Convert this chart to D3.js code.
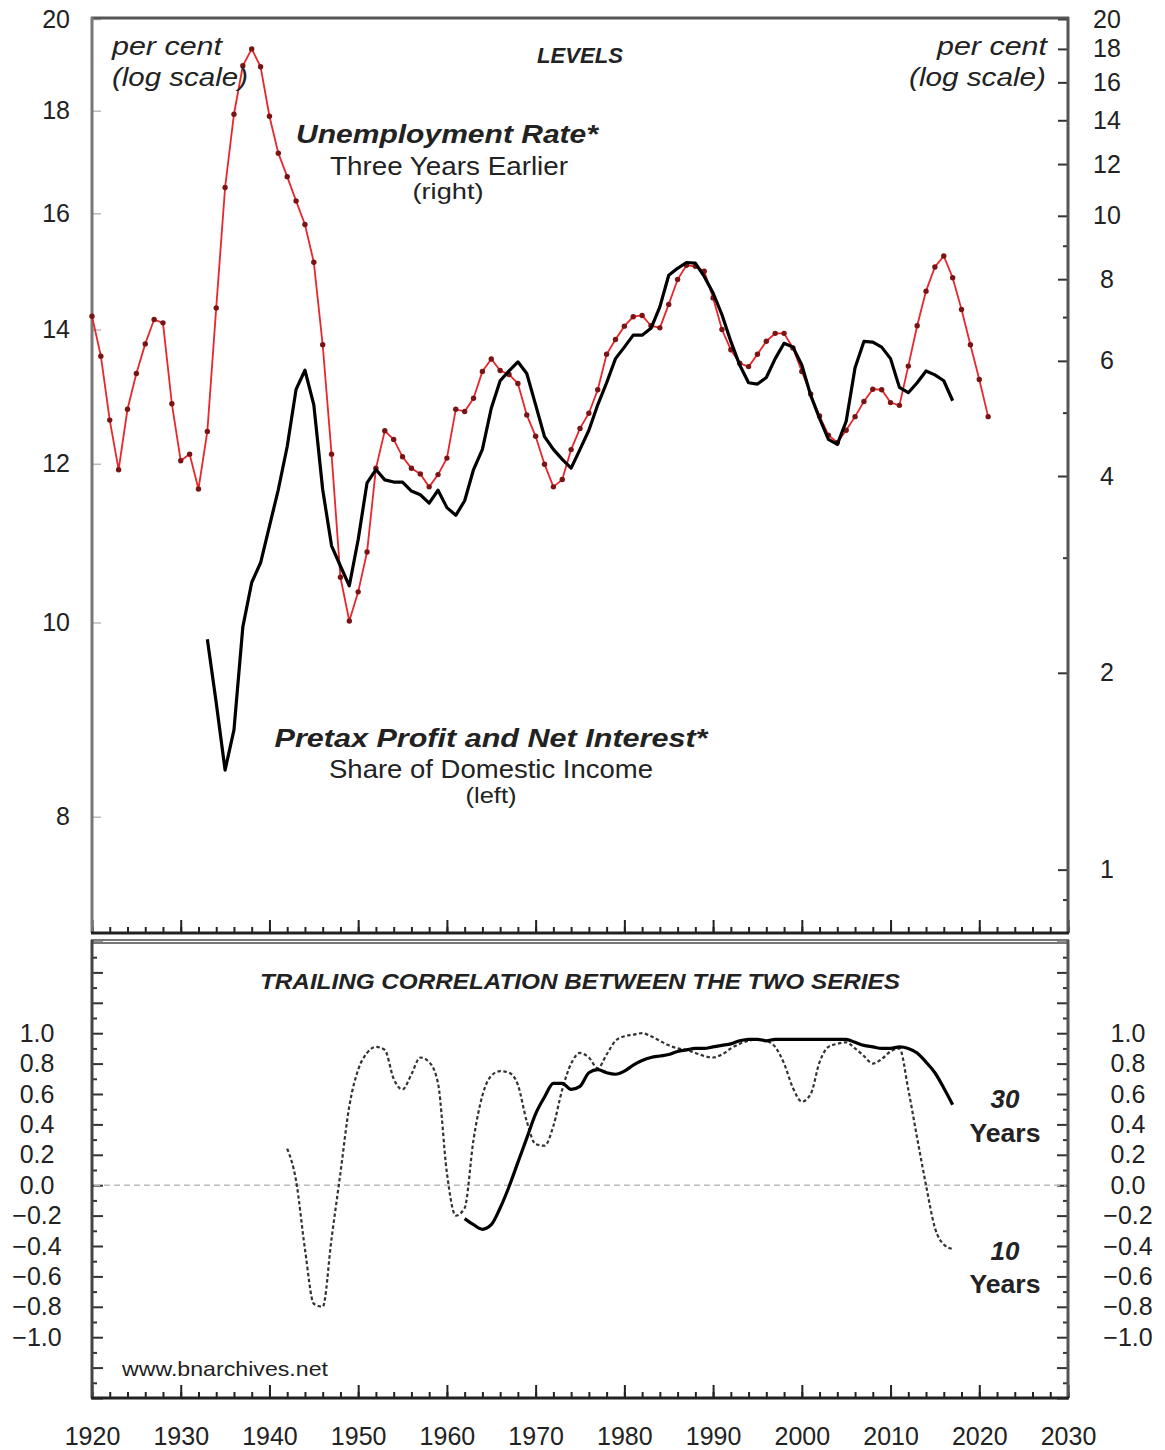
<!DOCTYPE html>
<html><head><meta charset="utf-8">
<script src="https://cdn.jsdelivr.net/npm/d3@7"></script>
<style>
body{margin:0;background:#fff}
svg{display:block}
text{font-family:"Liberation Sans",Arial,Helvetica,sans-serif;fill:#222}
</style>
</head><body>
<svg id="c" width="1165" height="1450"></svg>
<script>
// ---------------- DATA ----------------
const unempStart = 1920; // Unemployment rate three years earlier (right, log)
const unemp = [
  7.02, 6.10, 4.87, 4.09, 5.06, 5.74, 6.37, 6.94, 6.86, 5.16,
  4.22, 4.32, 3.82, 4.68, 7.23, 11.05, 14.3, 16.96, 18.0, 16.9,
  14.2, 12.47, 11.48, 10.54, 9.70, 8.49, 6.35, 4.32, 2.80, 2.40,
  2.66, 3.06, 4.11, 4.69, 4.55, 4.28, 4.11, 4.03, 3.85, 4.02,
  4.26, 5.06, 5.02, 5.26, 5.78, 6.04, 5.80, 5.72, 5.54, 4.96,
  4.60, 4.17, 3.85, 3.95, 4.39, 4.73, 4.99, 5.42, 6.14, 6.47,
  6.78, 7.01, 7.04, 6.79, 6.74, 7.32, 7.99, 8.40, 8.37, 8.23,
  7.49, 6.70, 6.24, 5.95, 5.88, 6.14, 6.43, 6.61, 6.61, 6.28,
  5.78, 5.34, 4.94, 4.62, 4.50, 4.70, 4.93, 5.20, 5.43, 5.42,
  5.18, 5.13, 5.89, 6.79, 7.67, 8.35, 8.68, 8.04, 7.19, 6.35,
  5.62, 4.93
];
const profitStart = 1933; // Pretax profit and net interest, share of domestic income (left, log)
const profit = [
  9.81, 9.12, 8.44, 8.84, 9.95, 10.47, 10.71,
  11.17, 11.65, 12.24, 13.07, 13.36, 12.84, 11.65, 10.92, 10.67, 10.43,
  11.00, 11.74, 11.92, 11.78, 11.75, 11.75, 11.63, 11.58, 11.47, 11.64,
  11.41, 11.31, 11.50, 11.92, 12.20, 12.79, 13.20, 13.35, 13.49, 13.31,
  12.84, 12.38, 12.20, 12.06, 11.94, 12.20, 12.47, 12.84, 13.17, 13.54,
  13.72, 13.91, 13.91, 14.02, 14.37, 14.90, 15.02, 15.12, 15.11, 14.88,
  14.60, 14.24, 13.81, 13.44, 13.17, 13.15, 13.25, 13.54, 13.78, 13.72,
  13.44, 12.98, 12.64, 12.34, 12.27, 12.60, 13.40, 13.81, 13.80, 13.72,
  13.54, 13.10, 13.02, 13.17, 13.35, 13.29, 13.20, 12.90
];
const corr10Start = 1942; // 10-year trailing correlation (dotted)
const corr10 = [
  0.24, 0.03, -0.42, -0.78, -0.80, -0.35, 0.08, 0.52,
  0.76, 0.87, 0.91, 0.89, 0.70, 0.63, 0.73, 0.84, 0.81, 0.67,
  0.08, -0.20, -0.15, 0.30, 0.59, 0.72, 0.75, 0.74, 0.66, 0.42,
  0.27, 0.26, 0.39, 0.63, 0.80, 0.87, 0.84, 0.77, 0.86, 0.95,
  0.98, 0.99, 1.00, 0.98, 0.95, 0.92, 0.90, 0.89, 0.87, 0.85,
  0.84, 0.86, 0.90, 0.93, 0.95, 0.96, 0.95, 0.91, 0.80, 0.64,
  0.55, 0.60, 0.81, 0.91, 0.93, 0.94, 0.90, 0.85, 0.80, 0.83,
  0.88, 0.90, 0.63, 0.31, 0.00, -0.28, -0.39, -0.42
];
const corr30Start = 1962; // 30-year trailing correlation (solid)
const corr30 = [
  -0.22, -0.26, -0.29, -0.26, -0.15, -0.01, 0.15, 0.31,
  0.47, 0.58, 0.67, 0.67, 0.63, 0.65, 0.74, 0.76, 0.74, 0.73,
  0.75, 0.79, 0.82, 0.84, 0.85, 0.86, 0.88, 0.89, 0.90, 0.90,
  0.91, 0.92, 0.93, 0.95, 0.96, 0.96, 0.95, 0.96, 0.96, 0.96,
  0.96, 0.96, 0.96, 0.96, 0.96, 0.96, 0.94, 0.92, 0.91, 0.90,
  0.90, 0.91, 0.90, 0.87, 0.81, 0.74, 0.64, 0.53
];
const xTickLabels = [1920, 1930, 1940, 1950, 1960, 1970, 1980, 1990, 2000, 2010, 2020, 2030];
const leftTicks = [8, 10, 12, 14, 16, 18, 20];
const rightTicks = [1, 2, 4, 6, 8, 10, 12, 14, 16, 18, 20];
const rightMinor = [0.9, 3, 5, 7, 9];
const corrLabels = [-1.0, -0.8, -0.6, -0.4, -0.2, 0.0, 0.2, 0.4, 0.6, 0.8, 1.0];

// ---------------- SETUP ----------------
const svg = d3.select("#c");
const L = 92, R = 1068, T1 = 19, B1 = 933, T2 = 942, B2 = 1398;
const x = d3.scaleLinear().domain([1920, 2030]).range([L, R]);
const yL = d3.scaleLog().domain([7, 20]).range([B1, T1]);
const yR = d3.scaleLog().domain([0.8, 20]).range([B1, T1]);
const yC = d3.scaleLinear().domain([-1.4, 1.6]).range([B2, T2]);

const toPts = (arr, start) => arr.map((v, i) => ({year: start + i, v}));
const unempPts = toPts(unemp, unempStart);
const profitPts = toPts(profit, profitStart);
const c10Pts = toPts(corr10, corr10Start);
const c30Pts = toPts(corr30, corr30Start);

const minorYears = d3.range(1920, 2031, 2);
const majorYears = xTickLabels;

function styleAxis(g, color, width) {
  g.select(".domain").remove();
  g.selectAll(".tick line").attr("stroke", color).attr("stroke-width", width);
}

// ---------- X ticks (both panels) ----------
[B1, B2].forEach(yb => {
  const gMin = svg.append("g").attr("transform", `translate(0,${yb})`)
    .call(d3.axisBottom(x).tickValues(minorYears).tickSize(-6).tickFormat(""));
  styleAxis(gMin, "#222", 2);
  const gMaj = svg.append("g").attr("transform", `translate(0,${yb})`)
    .call(d3.axisBottom(x).tickValues(majorYears).tickSize(-13).tickFormat(""));
  styleAxis(gMaj, "#222", 2);
});
// x labels
const gxl = svg.append("g").attr("transform", `translate(0,${B2})`)
  .call(d3.axisBottom(x).tickValues(xTickLabels).tickSize(0).tickPadding(28).tickFormat(d3.format("d")));
gxl.select(".domain").remove();
gxl.selectAll("text").style("font-size", "25px").attr("fill", "#222").attr("dy", "0.76em");

// ---------- Top panel left axis ----------
const gl = svg.append("g").attr("transform", `translate(${L},0)`)
  .call(d3.axisLeft(yL).tickValues(leftTicks).tickSize(-9).tickPadding(22).tickFormat(d3.format("d")));
styleAxis(gl, "#bbb", 1.5);
gl.selectAll("text").style("font-size", "25px").attr("fill", "#222");

// ---------- Top panel right axis ----------
const gr = svg.append("g").attr("transform", `translate(${R},0)`)
  .call(d3.axisRight(yR).tickValues(rightTicks).tickSize(-10).tickPadding(39).tickFormat(d3.format("d")));
styleAxis(gr, "#333", 2);
gr.selectAll("text").style("font-size", "25px").attr("fill", "#222").attr("text-anchor", "middle");
const grm = svg.append("g").attr("transform", `translate(${R},0)`)
  .call(d3.axisRight(yR).tickValues(rightMinor).tickSize(-5).tickFormat(""));
styleAxis(grm, "#333", 2);

// ---------- Bottom panel y axes ----------
const corrMajor = d3.range(-7, 9).map(k => Math.round(k * 2) / 10);
const corrMinor = d3.range(-6.5, 8).map(k => Math.round(k * 2) / 10);
const fmtC = d => (Math.abs(d) < 1e-9 ? "0.0" : d3.format(".1f")(d));
[[L, d3.axisLeft, -1, 37], [R, d3.axisRight, 1, 1128 - R]].forEach(([xp, ax, side, lx]) => {
  const gM = svg.append("g").attr("transform", `translate(${xp},0)`)
    .call(ax(yC).tickValues(corrMajor).tickSize(-11).tickFormat(""));
  styleAxis(gM, "#333", 2);
  const gm = svg.append("g").attr("transform", `translate(${xp},0)`)
    .call(ax(yC).tickValues(corrMinor).tickSize(-5).tickFormat(""));
  styleAxis(gm, "#333", 2);
  const gLab = svg.append("g").attr("transform", `translate(${xp},0)`)
    .call(ax(yC).tickValues(corrLabels).tickSize(0).tickFormat(fmtC));
  gLab.select(".domain").remove();
  gLab.selectAll("text").style("font-size", "25px").attr("fill", "#222")
    .attr("text-anchor", "middle").attr("x", side < 0 ? lx - xp : lx);
});

// ---------- Frames ----------
const line = (x1, y1, x2, y2, c, w) => svg.append("line")
  .attr("x1", x1).attr("y1", y1).attr("x2", x2).attr("y2", y2)
  .attr("stroke", c).attr("stroke-width", w);
// top panel
line(L - 1, T1 - 1, R + 1, T1 - 1, "#555", 3);
line(L, T1 - 2, L, B1, "#777", 3);
line(R, T1 - 2, R, B1, "#555", 3);
line(L - 1, B1, R + 1, B1, "#222", 3);
// bottom panel
line(L - 1, T2 - 2, R + 1, T2 - 2, "#777", 2);
line(L - 1, T2 + 1, R + 1, T2 + 1, "#777", 2);
line(L, T2 - 2, L, B2, "#444", 3);
line(R, T2 - 2, R, B2, "#555", 3);
line(L - 1, B2, R + 1, B2, "#222", 3);

// zero line
svg.append("line").attr("x1", L + 2).attr("x2", R - 2)
  .attr("y1", yC(0)).attr("y2", yC(0))
  .attr("stroke", "#bbb").attr("stroke-width", 1.5).attr("stroke-dasharray", "6,4");

// ---------- Series: top panel ----------
const redLine = d3.line().x(d => x(d.year)).y(d => yR(d.v));
svg.append("path").datum(unempPts).attr("d", redLine)
  .attr("fill", "none").attr("stroke", "#e8262b").attr("stroke-width", 1.8);
svg.append("g").selectAll("circle").data(unempPts).join("circle")
  .attr("cx", d => x(d.year)).attr("cy", d => yR(d.v)).attr("r", 2.7)
  .attr("fill", "#7a1414");

const blackLine = d3.line().x(d => x(d.year)).y(d => yL(d.v));
svg.append("path").datum(profitPts).attr("d", blackLine)
  .attr("fill", "none").attr("stroke", "#000").attr("stroke-width", 3.2)
  .attr("stroke-linejoin", "round");

// ---------- Series: bottom panel ----------
const corrLine = d3.line().x(d => x(d.year)).y(d => yC(d.v)).curve(d3.curveMonotoneX);
svg.append("path").datum(c10Pts).attr("d", corrLine)
  .attr("fill", "none").attr("stroke", "#333").attr("stroke-width", 2.2)
  .attr("stroke-dasharray", "3.5,2.5");
svg.append("path").datum(c30Pts).attr("d", corrLine)
  .attr("fill", "none").attr("stroke", "#000").attr("stroke-width", 3.2)
  .attr("stroke-linejoin", "round");

// ---------- Text annotations ----------
function label(str, xp, yp, o) {
  const t = svg.append("text").attr("x", xp).attr("y", yp)
    .attr("text-anchor", o.anchor || "middle")
    .style("font-size", o.size + "px")
    .style("font-weight", o.bold ? "bold" : "normal")
    .style("font-style", o.italic ? "italic" : "normal")
    .attr("fill", o.color || "#222")
    .text(str);
  if (o.len) t.attr("textLength", o.len).attr("lengthAdjust", "spacingAndGlyphs");
  return t;
}
label("LEVELS", 580, 63, {size: 22, bold: true, italic: true, len: 86});
label("per cent", 112, 55, {size: 26, italic: true, anchor: "start", len: 110, color: "#333"});
label("(log scale)", 112, 86, {size: 26, italic: true, anchor: "start", len: 136, color: "#333"});
label("per cent", 1047, 55, {size: 26, italic: true, anchor: "end", len: 110, color: "#333"});
label("(log scale)", 1046, 86, {size: 26, italic: true, anchor: "end", len: 137, color: "#333"});

label("Unemployment Rate*", 447, 143, {size: 25, bold: true, italic: true, len: 302});
label("Three Years Earlier", 449, 175, {size: 25, len: 238, color: "#333"});
label("(right)", 448, 199, {size: 22, len: 71, color: "#333"});

label("Pretax Profit and Net Interest*", 491, 747, {size: 25, bold: true, italic: true, len: 433});
label("Share of Domestic Income", 491, 778, {size: 25, len: 324, color: "#333"});
label("(left)", 491, 803, {size: 22, len: 51, color: "#333"});

label("TRAILING CORRELATION BETWEEN THE TWO SERIES", 580, 989, {size: 22, bold: true, italic: true, len: 640});
label("30", 1005, 1108, {size: 26, bold: true, italic: true});
label("Years", 1005, 1142, {size: 26, bold: true, len: 71});
label("10", 1005, 1260, {size: 26, bold: true, italic: true});
label("Years", 1005, 1293, {size: 26, bold: true, len: 71});
label("www.bnarchives.net", 122, 1376, {size: 21, anchor: "start", len: 206, color: "#333"});
</script>
</body></html>
